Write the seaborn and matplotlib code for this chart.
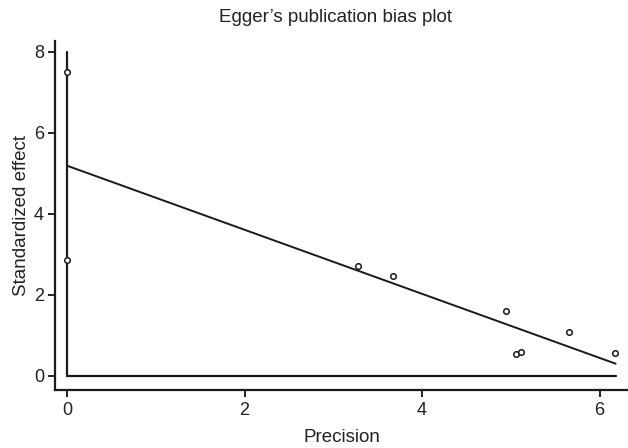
import matplotlib
matplotlib.use("Agg")
import matplotlib.pyplot as plt
import seaborn as sns
import pandas as pd

# Data
precision = [0.0, 0.0, 3.28, 3.67, 4.95, 5.06, 5.12, 5.65, 6.17]
std_effect = [7.5, 2.87, 2.72, 2.47, 1.60, 0.54, 0.59, 1.09, 0.57]
fit_x = [0.0, 6.18]
fit_y = [5.19, 0.30]
ci_x = [0.0, 0.0]
ci_y = [0.0, 8.0]
zero_x = [0.0, 6.18]
zero_y = [0.0, 0.0]
x_ticks = [0, 2, 4, 6]
y_ticks = [0, 2, 4, 6, 8]

sns.set_theme(style="ticks")
plt.rcParams["font.family"] = ["Liberation Sans", "DejaVu Sans"]

fig = plt.figure(figsize=(6.28, 4.48), dpi=100)
ax = fig.add_axes([0.0876, 0.1295, 0.9124, 0.779])

pts = pd.DataFrame({"Precision": precision, "Standardized effect": std_effect})
fit = pd.DataFrame({"x": fit_x, "y": fit_y})
ci = pd.DataFrame({"x": ci_x, "y": ci_y})
zl = pd.DataFrame({"x": zero_x, "y": zero_y})

sns.lineplot(data=ci, x="x", y="y", ax=ax, color="#1a1a1a", linewidth=1.6,
             sort=False, estimator=None)
sns.lineplot(data=zl, x="x", y="y", ax=ax, color="#1a1a1a", linewidth=1.6,
             estimator=None)
sns.lineplot(data=fit, x="x", y="y", ax=ax, color="#1a1a1a", linewidth=1.4,
             estimator=None)
sns.scatterplot(data=pts, x="Precision", y="Standardized effect", ax=ax,
                marker="o", s=16, facecolor="white", edgecolor="#1a1a1a",
                linewidth=1.1, zorder=5)

ax.set_xlim(-0.135, 6.32)
ax.set_ylim(-0.35, 8.27)
ax.set_xticks(x_ticks)
ax.set_yticks(y_ticks)
ax.set_xlabel("Precision", fontsize=13.5, color="#222222", labelpad=7)
ax.set_ylabel("Standardized effect", fontsize=13.5, color="#222222", labelpad=3)
ax.set_title("Egger\u2019s publication bias plot", fontsize=13.5, color="#222222",
             pad=14, x=0.49)

for s in ["top", "right"]:
    ax.spines[s].set_visible(False)
for s in ["left", "bottom"]:
    ax.spines[s].set_linewidth(1.6)
    ax.spines[s].set_color("#1a1a1a")
ax.tick_params(axis="both", labelsize=13, colors="#222222", length=5, width=1.4,
               direction="out")
ax.tick_params(axis="y", pad=3)

fig.savefig("out.png", dpi=100)
